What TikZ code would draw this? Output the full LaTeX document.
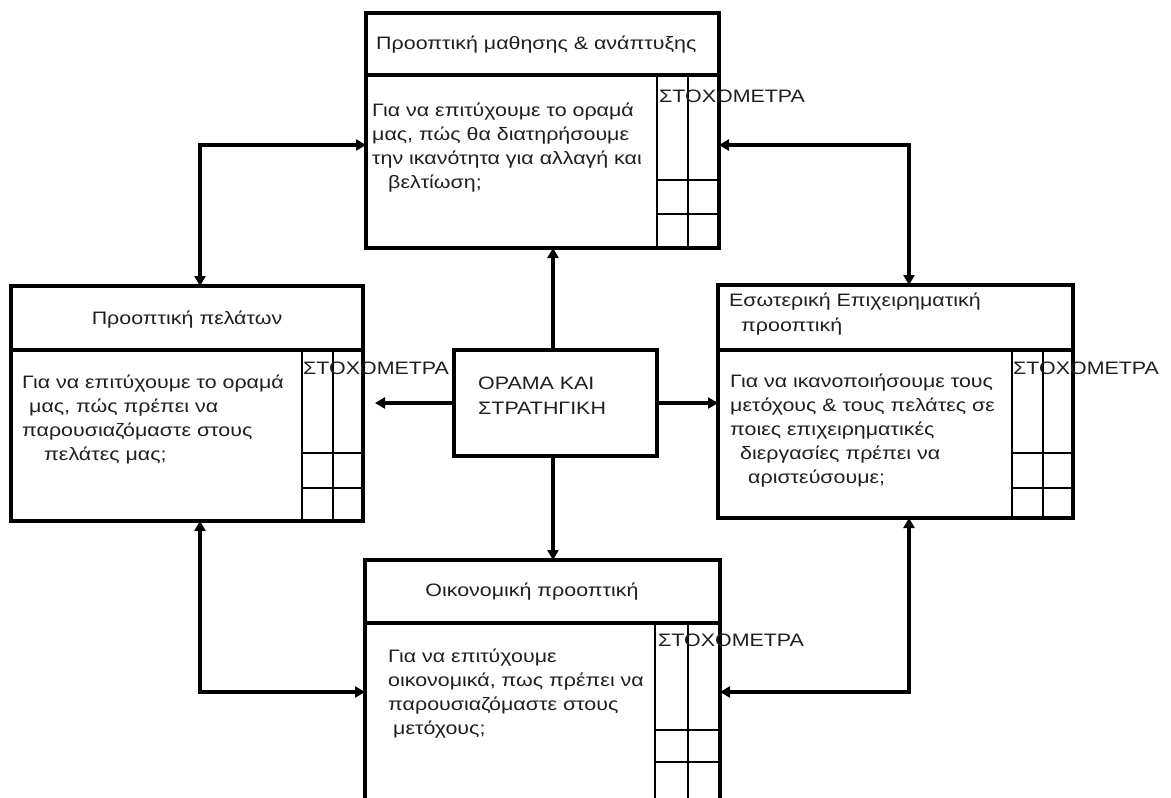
\documentclass[tikz,border=0pt]{standalone}
\usepackage{fontspec}
\setmainfont{Liberation Sans}[FakeStretch=1.19]
\usetikzlibrary{arrows.meta}
\newcommand\bodyfs{\fontsize{18}{24}\selectfont}
\begin{document}
\begin{tikzpicture}[x=1pt,y=-1pt,
  box/.style={draw, line width=4pt, inner sep=0pt, outer sep=0pt},
  divline/.style={line width=4pt},
  gridline/.style={line width=2.2pt},
  txt/.style={font=\bodyfs, inner sep=0pt, anchor=base west, text=black!88},
  ctxt/.style={txt, anchor=base},
  conn/.style={line width=4.5pt},
  tip/.tip={Triangle[length=10pt,width=11pt]}
]
\clip (0,0) rectangle (1171,798);
\fill[white] (0,0) rectangle (1171,798);

% ---- boxes ----
\node[box, minimum width=353pt, minimum height=235pt] (T) at (542.5,130.5) {};
\node[box, minimum width=352pt, minimum height=235pt] (L) at (187,403.5) {};
\node[box, minimum width=355pt, minimum height=233pt] (R) at (895.5,401.5) {};
\node[box, minimum width=355pt, minimum height=250pt] (B) at (542.5,685) {};
\node[box, minimum width=203pt, minimum height=106pt] (C) at (555.5,403) {};

% ---- dividers ----
\draw[divline] (366,75) -- (719,75);
\draw[divline] (11,350) -- (363,350);
\draw[divline] (718,350) -- (1073,350);
\draw[divline] (365,623) -- (720,623);

% ---- grids ----
\draw[gridline] (657,75) -- (657,248) (688,75) -- (688,248)
  (657,180) -- (719,180) (657,214) -- (719,214);
\draw[gridline] (302,350) -- (302,521) (333,350) -- (333,521)
  (302,453) -- (363,453) (302,488) -- (363,488);
\draw[gridline] (1012,350) -- (1012,518) (1043,350) -- (1043,518)
  (1012,453) -- (1073,453) (1012,488) -- (1073,488);
\draw[gridline] (655,623) -- (655,805) (688,623) -- (688,805)
  (655,730) -- (720,730) (655,762) -- (720,762);

% ---- headers ----
\node[txt] (hT) at (376,49) {Προοπτική μαθησης \& ανάπτυξης};
\node[ctxt] (hL) at (187,324) {Προοπτική πελάτων};
\node[txt] (hR1) at (729,306) {Εσωτερική Επιχειρηματική};
\node[txt] (hR2) at (741,331) {προοπτική};
\node[ctxt] (hB) at (532,596) {Οικονομική προοπτική};

% ---- targets label ----
\node[txt] (sT) at (659,102) {ΣΤΟΧΟΜΕΤΡΑ};
\node[txt] (sL) at (303,374) {ΣΤΟΧΟΜΕΤΡΑ};
\node[txt] (sR) at (1013,374) {ΣΤΟΧΟΜΕΤΡΑ};
\node[txt] (sB) at (658,646) {ΣΤΟΧΟΜΕΤΡΑ};

% ---- body texts ----
\node[txt] (bT1) at (372,116) {Για να επιτύχουμε το οραμά};
\node[txt] (bT2) at (372,140) {μας, πώς θα διατηρήσουμε};
\node[txt] (bT3) at (372,164) {την ικανότητα για αλλαγή και};
\node[txt] (bT4) at (388,188) {βελτίωση;};

\node[txt] (bL1) at (22,388) {Για να επιτύχουμε το οραμά};
\node[txt] (bL2) at (29,412) {μας, πώς πρέπει να};
\node[txt] (bL3) at (22,436) {παρουσιαζόμαστε στους};
\node[txt] (bL4) at (44,460) {πελάτες μας;};

\node[txt] (bR1) at (730,387) {Για να ικανοποιήσουμε τους};
\node[txt] (bR2) at (730,411) {μετόχους \& τους πελάτες σε};
\node[txt] (bR3) at (730,435) {ποιες επιχειρηματικές};
\node[txt] (bR4) at (740,459) {διεργασίες πρέπει να};
\node[txt] (bR5) at (748,483) {αριστεύσουμε;};

\node[txt] (bB1) at (388,662) {Για να επιτύχουμε};
\node[txt] (bB2) at (388,686) {οικονομικά, πως πρέπει να};
\node[txt] (bB3) at (388,710) {παρουσιαζόμαστε στους};
\node[txt] (bB4) at (393,734) {μετόχους;};

\node[txt] (cC1) at (478,389) {ΟΡΑΜΑ ΚΑΙ};
\node[txt] (cC2) at (478,414) {ΣΤΡΑΤΗΓΙΚΗ};

% ---- connector bends ----
\coordinate (kTL) at (200,145);
\coordinate (kTR) at (909,145);
\coordinate (kBL) at (200,692);
\coordinate (kBR) at (909,692);
\coordinate (kV) at (553,403);
\coordinate (kLtip) at (375,403);

% ---- connectors ----
\draw[conn, tip-tip] (T.west |- kTL) -| (L.north -| kTL);
\draw[conn, tip-tip] (T.east |- kTR) -| (R.north -| kTR);
\draw[conn, tip-tip] (L.south -| kBL) |- (B.west |- kBL);
\draw[conn, tip-tip] (R.south -| kBR) |- (B.east |- kBR);
\draw[conn, -tip] (C.north -| kV) -- (T.south -| kV);
\draw[conn, -tip] (C.south -| kV) -- (B.north -| kV);
\draw[conn, -tip] (C.west |- kV) -- (kLtip);
\draw[conn, -tip] (C.east |- kV) -- (R.west |- kV);
\end{tikzpicture}
\end{document}
